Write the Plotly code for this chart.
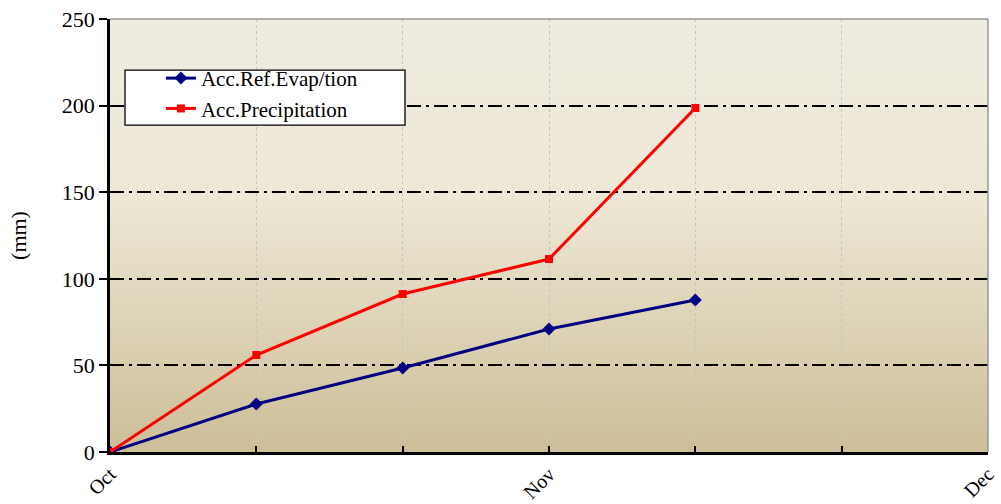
import plotly.graph_objects as go
import urllib.parse

x_pos = [0, 1, 2, 3, 4]
evap = [0, 27.7, 48.5, 71, 87.8]
precip = [0, 56, 91.2, 111.4, 198.6]
tick_vals = [0, 3, 6]
tick_text = ["Oct", "Nov", "Dec"]

FONT = "Liberation Serif"

svg = ("<svg xmlns='http://www.w3.org/2000/svg' width='100' height='100' preserveAspectRatio='none'>"
       "<defs><linearGradient id='g' x1='0' y1='0' x2='0' y2='1'>"
       "<stop offset='0' stop-color='#EEEBDF'/>"
       "<stop offset='0.4' stop-color='#EEE8D6'/>"
       "<stop offset='1' stop-color='#CDBE98'/>"
       "</linearGradient></defs><rect width='100' height='100' fill='url(#g)'/></svg>")
img_src = "data:image/svg+xml;charset=utf-8," + urllib.parse.quote(svg)

fig = go.Figure()
fig.add_trace(go.Scatter(x=x_pos, y=evap, name="Acc.Ref.Evap/tion", mode="lines+markers",
                         line=dict(color="#000080", width=3),
                         marker=dict(symbol="diamond", size=10, color="#000080")))
fig.add_trace(go.Scatter(x=x_pos, y=precip, name="Acc.Precipitation", mode="lines+markers",
                         line=dict(color="#FF0000", width=3),
                         marker=dict(symbol="square", size=8, color="#FF0000")))

fig.add_layout_image(dict(source=img_src, xref="paper", yref="paper", x=0, y=1, sizex=1, sizey=1,
                          sizing="stretch", layer="below", xanchor="left", yanchor="top"))

# legend box
fig.add_shape(type="rect", xref="paper", yref="paper", x0=0.0171, x1=0.336, y0=0.755, y1=0.882,
              fillcolor="white", line=dict(color="black", width=1.3), layer="above")

fig.update_layout(
    width=1001, height=504,
    margin=dict(l=110, r=13, t=19, b=52),
    paper_bgcolor="white", plot_bgcolor="rgba(0,0,0,0)",
    font=dict(family=FONT, size=22, color="black"),
    showlegend=True,
    legend=dict(x=0.058, y=0.91, xanchor="left", yanchor="top", bgcolor="rgba(0,0,0,0)",
                borderwidth=0, font=dict(family=FONT, size=21),
                tracegroupgap=0),
    xaxis=dict(range=[0, 6], tickmode="array", tickvals=tick_vals, ticktext=tick_text,
               tickangle=-45, ticks="inside", ticklen=6, tickwidth=2, tickcolor="black",
               showline=True, linecolor="black", linewidth=2.5, zeroline=False,
               showgrid=True, gridcolor="#C4C4C4", griddash="dot", gridwidth=1,
               minor=dict(dtick=1, tick0=0, showgrid=True, gridcolor="#C4C4C4", griddash="dot",
                          gridwidth=1, ticks="inside", ticklen=6, tickwidth=2, tickcolor="black"),
               tickfont=dict(family=FONT, size=20), automargin=False),
    yaxis=dict(range=[0, 250], dtick=50, ticks="outside", ticklen=8, tickwidth=2, tickcolor="black",
               showline=True, linecolor="black", linewidth=2.5, zeroline=False,
               showgrid=True, gridcolor="black", gridwidth=1.5, griddash="14px,5px,3px,5px",
               title=dict(text="(mm)", font=dict(family=FONT, size=22), standoff=30),
               tickfont=dict(family=FONT, size=22), automargin=False),
)

fig.add_shape(type="line", xref="paper", yref="paper", x0=0, x1=1, y0=1, y1=1,
              line=dict(color="#999999", width=1.5))
fig.add_shape(type="line", xref="paper", yref="paper", x0=1, x1=1, y0=0, y1=1,
              line=dict(color="#999999", width=1.5))

fig.write_html("out.html", config={"displayModeBar": False},
               post_script="document.body.style.margin='0';document.body.style.padding='0';document.body.style.overflow='hidden';")
